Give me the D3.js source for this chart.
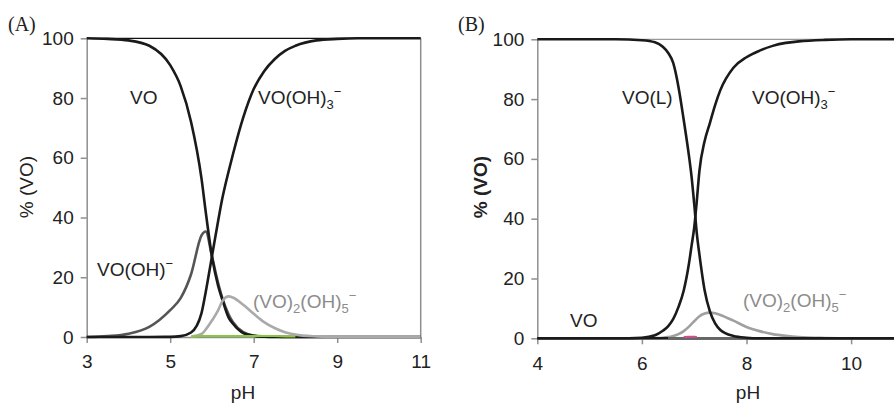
<!DOCTYPE html>
<html lang="en">
<head>
<meta charset="UTF-8">
<title>VO speciation</title>
<script src="https://cdnjs.cloudflare.com/ajax/libs/d3/7.6.1/d3.min.js"></script>
<style>
  body { margin: 0; background: #fff; }
  text { font-family: "Liberation Sans", Arial, sans-serif; }
</style>
</head>
<body>
<svg id="chart" width="894" height="405"></svg>
<script>
// ---- data (% VO) ----
// panel A
const phA     = [3, 3.5, 4, 4.5, 5, 5.25, 5.5, 5.75, 5.85, 6, 6.15, 6.25, 6.4, 6.5, 6.75, 7, 7.25, 7.5, 7.75, 8, 8.5, 9, 9.5, 10, 11];
const voA     = [100, 99.8, 99.3, 97.5, 91, 84, 72, 53, 42, 27, 17, 12.5, 6.5, 4.5, 1.3, 0.4, 0.1, 0, 0, 0, 0, 0, 0, 0, 0];
const vooh3A  = [0, 0, 0, 0, 0.05, 0.3, 1.5, 8, 15, 27, 39, 46.5, 55.5, 61, 73.5, 83, 89, 93, 95.8, 97.5, 99.3, 99.8, 100, 100, 100];
const voohA   = [0, 0.3, 1.1, 3.4, 9, 13, 21, 34, 35.3, 27, 18, 13, 7.5, 5, 1.6, 0.5, 0.2, 0.1, 0, 0, 0, 0, 0, 0, 0];
const dimerA  = [null, null, null, null, null, null, 0.1, 1, 2.5, 5.5, 9, 12, 13.6, 13.2, 10.8, 7.8, 5, 3, 1.6, 0.8, 0.2, 0, 0, 0, 0];
const minorA  = [null, null, null, null, null, null, 0.2, 0.3, 0.3, 0.3, 0.3, 0.3, 0.3, 0.3, 0.3, 0.3, 0.3, 0.3, 0.2, 0.2, null, null, null, null, null];

// panel B
const phB     = [4, 5, 5.5, 6, 6.25, 6.4, 6.5, 6.6, 6.7, 6.8, 6.9, 6.95, 7, 7.05, 7.1, 7.2, 7.3, 7.4, 7.5, 7.75, 8, 8.25, 8.5, 8.75, 9, 9.5, 10, 11, 12];
const volB    = [100, 100, 100, 99.7, 99, 97.5, 95.5, 92, 84, 73, 61, 54, 45, 35, 28, 16, 9, 5, 2.8, 0.8, 0.2, 0, 0, 0, 0, 0, 0, 0, 0];
const vooh3B  = [0, 0, 0, 0.2, 1, 2.5, 4, 6.5, 10.5, 16, 25, 31, 37, 46, 56, 66, 72, 78, 83, 90.5, 94, 96.2, 97.8, 98.8, 99.3, 99.8, 100, 100, 100];
const dimerB  = [0, 0, 0, 0, 0.1, 0.2, 0.4, 0.8, 1.4, 2.4, 3.9, 4.8, 5.7, 6.6, 7.4, 8.3, 8.6, 8.4, 7.8, 5.9, 3.8, 2.4, 1.4, 0.8, 0.4, 0.1, 0, 0, 0];
const voB     = [0, 0, 0, 0, 0, 0, 0, 0, 0, 0, 0, 0, 0, 0, 0, 0, 0, 0, 0, 0, 0, 0, 0, 0, 0, 0, 0, 0, 0];
const voohB   = [null, null, null, null, null, null, 0, 0, 0, 0, 0, 0, 0, 0, 0, 0, 0, 0, 0, 0, 0, 0, 0, null, null, null, null, null, null];
const minorB  = [null, null, null, null, null, null, null, null, null, 0.4, 0.5, 0.5, 0.5, 0.4, null, null, null, null, null, null, null, null, null, null, null, null, null, null, null];

const ticksA = [3, 5, 7, 9, 11];
const ticksB = [4, 6, 8, 10];
const ticksY = [0, 20, 40, 60, 80, 100];

const svg = d3.select("#chart");
const axisGray = "#8f8f8f";
const fontPx = "19px";

function panel(o) {
    const g = svg.append("g");
    const x = d3.scaleLinear().domain(o.xDomain).range(o.xRange);
    const y = d3.scaleLinear().domain([0, 100]).range(o.yRange);

    // frame lines
    g.append("line")
        .attr("x1", x.range()[0]).attr("x2", Math.min(x.range()[1], 894))
        .attr("y1", y(100)).attr("y2", y(100))
        .style("stroke", o.topColor).style("stroke-width", 1.3);
    if (o.rightLine) {
        g.append("line")
            .attr("x1", x.range()[1]).attr("x2", x.range()[1])
            .attr("y1", y(100)).attr("y2", y(0))
            .style("stroke", axisGray).style("stroke-width", 1.5);
    }

    // axes
    const ax = g.append("g")
        .attr("transform", `translate(0,${y(0)})`)
        .call(d3.axisBottom(x).tickValues(o.ticks).tickSize(6).tickSizeOuter(0).tickPadding(12));
    const ay = g.append("g")
        .attr("transform", `translate(${x.range()[0]},0)`)
        .call(d3.axisLeft(y).tickValues(ticksY).tickSize(6).tickSizeOuter(0).tickPadding(7));
    [ax, ay].forEach(a => {
        a.attr("font-family", null).attr("font-size", null);
        a.selectAll("path, line").style("stroke", axisGray).style("stroke-width", 1.5);
        a.selectAll("text").style("font-size", fontPx).style("fill", "#222");
    });

    // curves
    const line = d3.line()
        .defined(d => d[1] != null)
        .x(d => x(d[0]))
        .y(d => y(d[1]))
        .curve(d3.curveMonotoneX);
    o.series.forEach(s => {
        g.append("path")
            .attr("d", line(o.ph.map((p, i) => [p, s.values[i]])))
            .style("fill", "none")
            .style("stroke", s.color)
            .style("stroke-width", s.width || 2.6)
            .style("stroke-linejoin", "round");
    });

    // axis titles
    g.append("text")
        .attr("transform", `translate(${o.yTitleX},${o.yTitleY}) rotate(-90)`)
        .attr("text-anchor", "middle")
        .style("font-size", fontPx)
        .style("font-weight", o.boldY ? "bold" : "normal")
        .style("fill", "#222")
        .text("% (VO)");
    g.append("text")
        .attr("x", o.xTitleX)
        .attr("y", 399)
        .attr("text-anchor", "middle")
        .style("font-size", fontPx).style("fill", "#222")
        .text("pH");

    // panel letter
    g.append("text")
        .attr("x", o.letterX).attr("y", 31)
        .style("font-family", "'Liberation Serif', 'Times New Roman', serif")
        .style("font-size", "20px").style("fill", "#222")
        .text(o.letter);

    return g;
}

// species label with sub/superscripts: parts = [[text, "n"|"sub"|"sup"], ...]
function label(x, y, parts, color) {
    const t = svg.append("text").attr("x", x).attr("y", y)
        .style("font-size", fontPx).style("fill", color || "#222");
    let shift = 0;
    parts.forEach(([s, kind]) => {
        const target = kind === "sub" ? 5 : kind === "sup" ? -8 : 0;
        t.append("tspan")
            .attr("dy", target - shift)
            .style("font-size", kind === "n" ? fontPx : "13px")
            .text(s);
        shift = target;
    });
}

panel({
    letter: "(A)", letterX: 8,
    xDomain: [3, 11], xRange: [86.7, 420.7], yRange: [337, 38.3],
    ticks: ticksA, topColor: "#111", rightLine: true,
    yTitleX: 33, yTitleY: 187, boldY: false, xTitleX: 243,
    ph: phA,
    series: [
        { values: voohA, color: "#555555" },
        { values: vooh3A, color: "#1a1a1a" },
        { values: voA, color: "#1a1a1a" },
        { values: dimerA, color: "#aaaaaa" },
        { values: minorA, color: "#8cc63f", width: 2 }
    ]
});

panel({
    letter: "(B)", letterX: 458,
    xDomain: [4, 12], xRange: [537.3, 955.7], yRange: [338.3, 39.3],
    ticks: ticksB, topColor: "#999", rightLine: false,
    yTitleX: 487, yTitleY: 187, boldY: true, xTitleX: 748,
    ph: phB,
    series: [
        { values: dimerB, color: "#a0a0a0" },
        { values: voB, color: "#1a1a1a" },
        { values: voohB, color: "#666666" },
        { values: volB, color: "#1a1a1a" },
        { values: vooh3B, color: "#1a1a1a" },
        { values: minorB, color: "#d0508c", width: 2 }
    ]
});

// species labels
label(130, 104, [["VO", "n"]]);
label(258, 104, [["VO(OH)", "n"], ["3", "sub"], ["−", "sup"]]);
label(97, 276, [["VO(OH)", "n"], ["−", "sup"]]);
label(253, 308, [["(VO)", "n"], ["2", "sub"], ["(OH)", "n"], ["5", "sub"], ["−", "sup"]], "#8c8c8c");

label(622, 104, [["VO(L)", "n"]]);
label(752, 104, [["VO(OH)", "n"], ["3", "sub"], ["−", "sup"]]);
label(743, 307, [["(VO)", "n"], ["2", "sub"], ["(OH)", "n"], ["5", "sub"], ["−", "sup"]], "#8c8c8c");
label(570, 327, [["VO", "n"]]);
</script>
</body>
</html>
